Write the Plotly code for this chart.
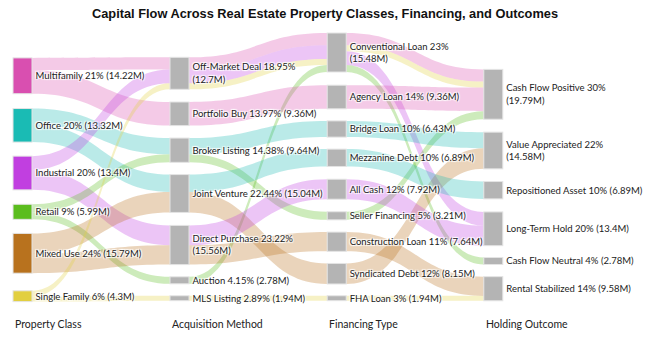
import plotly.graph_objects as go

# ---------------- data ----------------
property_classes = ["Multifamily", "Office", "Industrial", "Retail", "Mixed Use", "Single Family"]
acquisition_methods = ["Off-Market Deal", "Portfolio Buy", "Broker Listing", "Joint Venture",
                       "Direct Purchase", "Auction", "MLS Listing"]
financing_types = ["Conventional Loan", "Agency Loan", "Bridge Loan", "Mezzanine Debt", "All Cash",
                   "Seller Financing", "Construction Loan", "Syndicated Debt", "FHA Loan"]
holding_outcomes = ["Cash Flow Positive", "Value Appreciated", "Repositioned Asset", "Long-Term Hold",
                    "Cash Flow Neutral", "Rental Stabilized"]
stage_titles = ["Property Class", "Acquisition Method", "Financing Type", "Holding Outcome"]

# flows in $M: (source, target, value, property class that the flow carries)
flows_class_to_acq = [
    ("Multifamily", "Off-Market Deal", 4.86, "Multifamily"),
    ("Multifamily", "Portfolio Buy", 9.36, "Multifamily"),
    ("Office", "Broker Listing", 6.43, "Office"),
    ("Office", "Joint Venture", 6.89, "Office"),
    ("Industrial", "Off-Market Deal", 5.48, "Industrial"),
    ("Industrial", "Direct Purchase", 7.92, "Industrial"),
    ("Retail", "Broker Listing", 3.21, "Retail"),
    ("Retail", "Auction", 2.78, "Retail"),
    ("Mixed Use", "Joint Venture", 8.15, "Mixed Use"),
    ("Mixed Use", "Direct Purchase", 7.64, "Mixed Use"),
    ("Single Family", "Off-Market Deal", 2.36, "Single Family"),
    ("Single Family", "MLS Listing", 1.94, "Single Family"),
]
flows_acq_to_fin = [
    ("Off-Market Deal", "Conventional Loan", 4.86, "Multifamily"),
    ("Off-Market Deal", "Conventional Loan", 5.48, "Industrial"),
    ("Off-Market Deal", "Conventional Loan", 2.36, "Single Family"),
    ("Auction", "Conventional Loan", 2.78, "Retail"),
    ("Portfolio Buy", "Agency Loan", 9.36, "Multifamily"),
    ("Broker Listing", "Bridge Loan", 6.43, "Office"),
    ("Broker Listing", "Seller Financing", 3.21, "Retail"),
    ("Joint Venture", "Mezzanine Debt", 6.89, "Office"),
    ("Joint Venture", "Syndicated Debt", 8.15, "Mixed Use"),
    ("Direct Purchase", "All Cash", 7.92, "Industrial"),
    ("Direct Purchase", "Construction Loan", 7.64, "Mixed Use"),
    ("MLS Listing", "FHA Loan", 1.94, "Single Family"),
]
flows_fin_to_out = [
    ("Conventional Loan", "Cash Flow Positive", 4.86, "Multifamily"),
    ("Conventional Loan", "Long-Term Hold", 5.48, "Industrial"),
    ("Conventional Loan", "Cash Flow Positive", 2.36, "Single Family"),
    ("Conventional Loan", "Cash Flow Neutral", 2.78, "Retail"),
    ("Agency Loan", "Cash Flow Positive", 9.36, "Multifamily"),
    ("Seller Financing", "Cash Flow Positive", 3.21, "Retail"),
    ("Bridge Loan", "Value Appreciated", 6.43, "Office"),
    ("Syndicated Debt", "Value Appreciated", 8.15, "Mixed Use"),
    ("Mezzanine Debt", "Repositioned Asset", 6.89, "Office"),
    ("All Cash", "Long-Term Hold", 7.92, "Industrial"),
    ("Construction Loan", "Rental Stabilized", 7.64, "Mixed Use"),
    ("FHA Loan", "Rental Stabilized", 1.94, "Single Family"),
]

# ---------------- styling ----------------
class_colors = {
    "Multifamily": (217, 79, 176),
    "Office": (26, 187, 180),
    "Industrial": (193, 63, 224),
    "Retail": (91, 189, 30),
    "Mixed Use": (184, 114, 30),
    "Single Family": (226, 207, 64),
}
gray = "#b4b4b4"
wrap_names = {"Off-Market Deal", "Direct Purchase", "Conventional Loan", "Cash Flow Positive",
              "Value Appreciated"}

columns = [property_classes, acquisition_methods, financing_types, holding_outcomes]
col_x_px = [22.5, 179.5, 336.7, 493.3]
col_y_px = [
    [75.8, 125.3, 173.0, 211.8, 253.3, 296.2],
    [73.3, 113.8, 150.2, 193.5, 245.0, 280.3, 298.2],
    [52.5, 97.0, 129.0, 157.8, 189.2, 215.8, 241.7, 273.7, 298.2],
    [94.3, 150.5, 190.2, 228.8, 261.0, 288.7],
]
W, H = 650, 340

all_flows = flows_class_to_acq + flows_acq_to_fin + flows_fin_to_out
names = [n for col in columns for n in col]
index = {n: i for i, n in enumerate(names)}

# node values (computed from flows)
node_val = {n: 0.0 for n in names}
for s, t, v, c in flows_class_to_acq:
    node_val[s] += v
for s, t, v, c in all_flows:
    node_val[t] += v
total = sum(node_val[n] for n in property_classes)

labels, colors, xs, ys = [], [], [], []
for ci, col in enumerate(columns):
    for ri, n in enumerate(col):
        pct = node_val[n] / total * 100
        pct_s = f"{pct:.2f}%" if ci == 1 else f"{pct:.0f}%"
        val_s = f"({round(node_val[n], 2):g}M)"
        sep = "<br>" if n in wrap_names else " "
        labels.append(f"{n} {pct_s}{sep}{val_s}")
        if ci == 0:
            r, g, b = class_colors[n]
            colors.append(f"rgb({r},{g},{b})")
        else:
            colors.append(gray)
        xs.append(col_x_px[ci] / W)
        ys.append(col_y_px[ci][ri] / H)

src = [index[s] for s, t, v, c in all_flows]
tgt = [index[t] for s, t, v, c in all_flows]
val = [v for s, t, v, c in all_flows]
lcol = ["rgba({},{},{},0.3)".format(*class_colors[c]) for s, t, v, c in all_flows]

# invisible helper node beyond the right edge so outcome labels sit to the right of their nodes
helper = len(labels)
labels.append("")
colors.append("rgba(0,0,0,0)")
xs.append(1.04)
ys.append(0.5)
for n in holding_outcomes:
    src.append(index[n])
    tgt.append(helper)
    val.append(1e-6)
    lcol.append("rgba(0,0,0,0)")

fig = go.Figure(go.Sankey(
    arrangement="fixed",
    domain=dict(x=[0, 1], y=[0, 1]),
    node=dict(
        label=labels, color=colors, x=xs, y=ys,
        pad=21.4, thickness=19,
        line=dict(color="#e4e4e4", width=1),
        hoverinfo="none",
    ),
    link=dict(source=src, target=tgt, value=val, color=lcol, hoverinfo="none"),
    textfont=dict(family="Lato", size=9.5, color="#222222"),
))

title_x_px = [13, 170, 327, 484]
for tx, tt in zip(title_x_px, stage_titles):
    fig.add_annotation(text=tt, x=tx / W, y=1 - 324 / H, xref="paper", yref="paper",
                       xanchor="left", yanchor="middle", showarrow=False,
                       font=dict(family="Lato", size=10.5, color="#222222"))

fig.update_layout(
    width=W, height=H,
    margin=dict(l=0, r=0, t=0, b=0),
    paper_bgcolor="white",
    title=dict(text="Capital Flow Across Real Estate Property Classes, Financing, and Outcomes",
               x=0.5, xanchor="center", y=1 - 14 / H, yanchor="middle",
               font=dict(family="Liberation Sans", size=12.8, color="#111111", weight="bold")),
)

fig.write_html("out.html")
